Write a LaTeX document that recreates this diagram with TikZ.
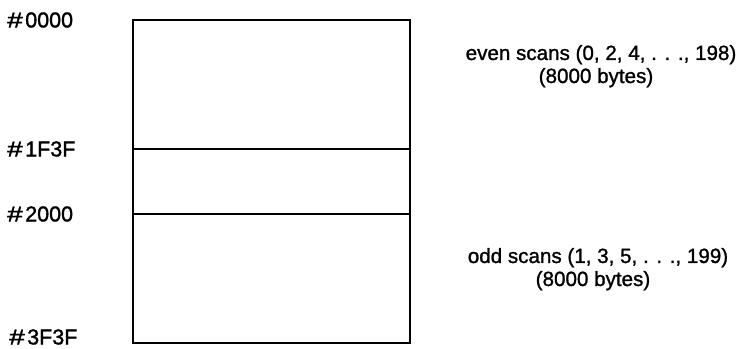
\documentclass[tikz,border=0pt]{standalone}
\usepackage{fontspec}
\usepackage{graphicx}
\setmainfont{Liberation Sans}
\newfontfamily\addrfont{Liberation Sans}[FakeBold=1.5]
\newfontfamily\descfont{Liberation Sans}[FakeBold=1.2]
\newcommand{\widehash}{\scalebox{1.3}[1]{\#}\hspace{2.5pt}}
\begin{document}
\begin{tikzpicture}[x=1pt,y=1pt,
  addr/.style={anchor=west,inner sep=0pt,font=\addrfont\fontsize{21.5}{24}\selectfont},
  desc/.style={anchor=base,inner sep=0pt,font=\descfont\fontsize{20.6}{24}\selectfont},
  outer/.style={line width=1.7pt},
  divider/.style={line width=1.3pt}]
\useasboundingbox (0,0) rectangle (738,348);
\coordinate (tl) at (133,328);
\coordinate (br) at (410,5);
\draw[outer] (tl) rectangle (br);
\coordinate (a1) at (133,199);
\coordinate (a2) at (410,199);
\coordinate (b1) at (133,134);
\coordinate (b2) at (410,134);
\draw[divider] (a1) -- (a2);
\draw[divider] (b1) -- (b2);
\node[addr] (l0) at (7,328) {\widehash 0000};
\node[addr] (l1) at (7,199) {\widehash 1F3F};
\node[addr] (l2) at (7,134) {\widehash 2000};
\node[addr] (l3) at (9,11) {\widehash 3F3F};
\node[desc] (e1) at (601,288) {even scans (0, 2, 4, . . ., 198)};
\node[desc] (e2) at (596,265) {(8000 bytes)};
\node[desc] (o1) at (598,85) {odd scans (1, 3, 5, . . ., 199)};
\node[desc] (o2) at (593,62) {(8000 bytes)};
\end{tikzpicture}
\end{document}
